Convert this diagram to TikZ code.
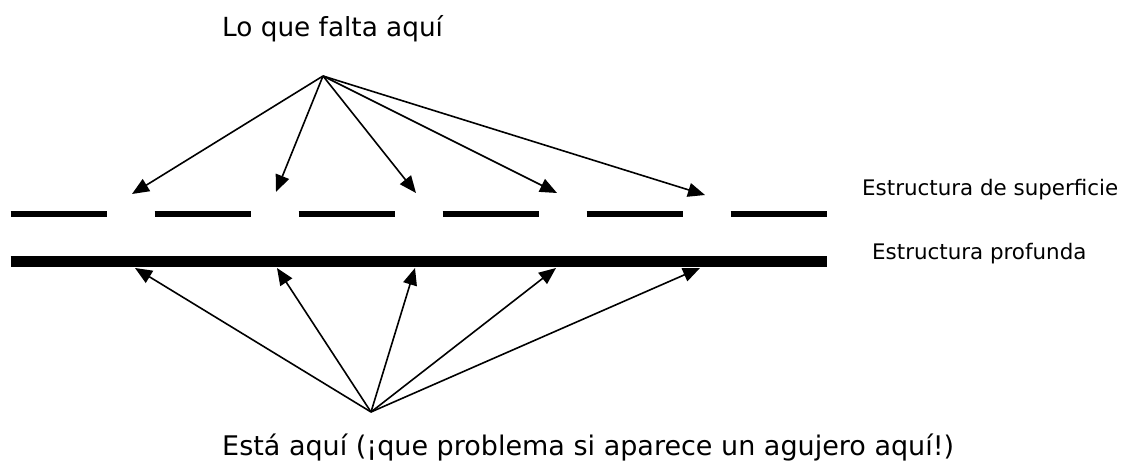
\documentclass[tikz,border=0pt]{standalone}
\usepackage{fontspec}
\setmainfont{DejaVu Sans}
\usetikzlibrary{arrows.meta}
\tikzset{
  pointer/.style={line width=1.6pt, -{Triangle[length=17pt,width=14pt]}},
  dashseg/.style={line width=5.8pt},
  deepline/.style={line width=11.6pt},
  label/.style={anchor=base west, inner sep=0pt},
}
\begin{document}
\begin{tikzpicture}[x=1pt,y=-1pt]
\useasboundingbox (0,0) rectangle (1122,462);

% captions
\node[label, font=\fontsize{26.3}{30}\selectfont] (title) at (222,37) {Lo que falta aquí};
\node[label, font=\fontsize{27}{31}\selectfont] (answer) at (222,455) {Está aquí (¡que problema si aparece un agujero aquí!)};
\node[label, font=\fontsize{21.4}{26}\selectfont] (surf) at (862,196) {Estructura de superficie};
\node[label, font=\fontsize{21.4}{26}\selectfont] (deep) at (872,260) {Estructura profunda};

% surface structure: broken line
\foreach \i in {0,...,5} {
  \coordinate (s\i a) at ({10.7+144*\i},214);
  \coordinate (s\i b) at ({106.7+144*\i},214);
  \draw[dashseg] (s\i a) -- (s\i b);
}

% deep structure: continuous thick line
\coordinate (d0) at (10.7,261.5);
\coordinate (d1) at (826.7,261.5);
\draw[deepline] (d0) -- (d1);

% fan of arrows from above into the gaps
\coordinate (top) at (323,76);
\coordinate (t1) at (132,194);
\coordinate (t2) at (276,192);
\coordinate (t3) at (416,193);
\coordinate (t4) at (557,193);
\coordinate (t5) at (705,195);
\foreach \t in {t1,t2,t3,t4,t5} \draw[pointer] (top) -- (\t);

% fan of arrows from below up to the deep structure
\coordinate (bot) at (371,412);
\coordinate (b1) at (135,268);
\coordinate (b2) at (277,268);
\coordinate (b3) at (415,268);
\coordinate (b4) at (556,268);
\coordinate (b5) at (700,268);
\foreach \b in {b1,b2,b3,b4,b5} \draw[pointer] (bot) -- (\b);
\end{tikzpicture}
\end{document}
